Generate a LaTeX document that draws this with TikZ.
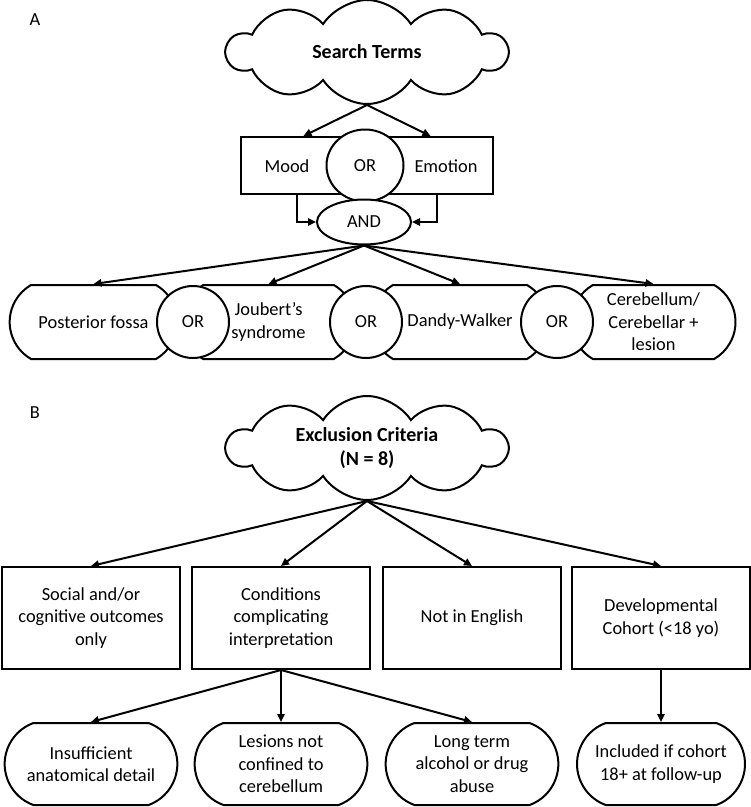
\documentclass[tikz,border=0pt]{standalone}
\usepackage{fontspec}
\setmainfont{Carlito}
\usetikzlibrary{calc, shapes.geometric, shapes.misc, shapes.symbols, arrows.meta}

\begin{document}
\begin{tikzpicture}[x=0.75pt, y=-0.75pt, line width=1.5pt,
    font=\fontsize{13.8pt}{16.9pt}\selectfont,
    arr/.style={-{Triangle[length=6pt, width=5.5pt]}},
    idea/.style={cloud, draw, cloud puffs=10, cloud puff arc=115, cloud ignores aspect,
      minimum width=210pt, minimum height=78pt, align=center, font=\fontsize{15pt}{18pt}\selectfont\bfseries},
    box/.style={draw, rectangle, align=center, minimum width=133.5pt, minimum height=76.5pt, inner sep=2pt},
    pill/.style={draw, rounded rectangle, rounded rectangle arc length=120, align=center,
      minimum height=55.5pt, inner sep=2pt},
    orbub/.style={draw, fill=white, circle, minimum size=54pt, inner sep=0pt}]
  \useasboundingbox (0, 0) rectangle (750, 807);

  % A: search terms
  \node (lblA) at (35, 20) {A};
  \node[idea] (search) at (367, 52) {Search Terms};

  \node[draw, minimum width=189pt, minimum height=42.75pt] (terms) at (367, 165.5) {};
  \node (mood) at (287, 166) {Mood};
  \node (emot) at (446, 166) {Emotion};
  \node[draw, fill=white, ellipse, minimum width=57.75pt, minimum height=54pt, inner sep=0pt] (orMood) at (365, 165.5) {OR};
  \node[draw, fill=white, ellipse, minimum width=70.5pt, minimum height=33.75pt, inner sep=0pt] (and) at (364, 222) {AND};

  \draw[arr] (search.south) -- ($(terms.north)!0.5!(terms.north west)$);
  \draw[arr] (search.south) -- ($(terms.north)!0.5!(terms.north east)$);
  \draw[arr] ($(terms.south)!0.55!(terms.south west)$) |- (and.west);
  \draw[arr] ($(terms.south)!0.55!(terms.south east)$) |- (and.east);

  \node[pill, minimum width=129.75pt] (post) at (93.5, 322) {Posterior fossa};
  \node[pill, minimum width=134pt] (joub) at (268.5, 322) {Joubert’s\\syndrome};
  \node[pill, minimum width=136.5pt] (dandy) at (460, 322) {Dandy-Walker};
  \node[pill, minimum width=127pt] (cereb) at (653.5, 322) {Cerebellum/\\Cerebellar +\\lesion};
  \node[orbub] (orA) at (193, 322) {OR};
  \node[orbub] (orB) at (366, 322) {OR};
  \node[orbub] (orC) at (557, 322) {OR};

  \draw[arr] (and.south) -- (post.north);
  \draw[arr] (and.south) -- (joub.north);
  \draw[arr] (and.south) -- (dandy.north);
  \draw[arr] (and.south) -- (cereb.north);

  % B: exclusion criteria
  \node (lblB) at (35, 413) {B};
  \node[idea] (excl) at (367, 448) {Exclusion Criteria\\(N = 8)};

  \node[box] (social) at (91, 618) {Social and/or\\cognitive outcomes\\only};
  \node[box] (cond) at (281, 618) {Conditions\\complicating\\interpretation};
  \node[box] (engl) at (472, 618) {Not in English};
  \node[box] (devel) at (661, 618) {Developmental\\Cohort (<18 yo)};

  \foreach \n in {social, cond, engl, devel}
    \draw[arr] (excl.south) -- (\n.north);

  \tikzset{pill/.append style={rounded rectangle arc length=140, minimum width=133.5pt, minimum height=61.5pt}}
  \node[pill] (anat) at (91, 764) {Insufficient\\anatomical detail};
  \node[pill] (lesn) at (281, 764) {Lesions not\\confined to\\cerebellum};
  \node[pill] (alco) at (472, 764) {Long term\\alcohol or drug\\abuse};
  \node[pill, minimum width=130pt] (incl) at (661, 764) {Included if cohort\\18+ at follow-up};

  \draw[arr] (cond.south) -- (anat.north);
  \draw[arr] (cond.south) -- (lesn.north);
  \draw[arr] (cond.south) -- (alco.north);
  \draw[arr] (devel.south) -- (incl.north);
\end{tikzpicture}
\end{document}
